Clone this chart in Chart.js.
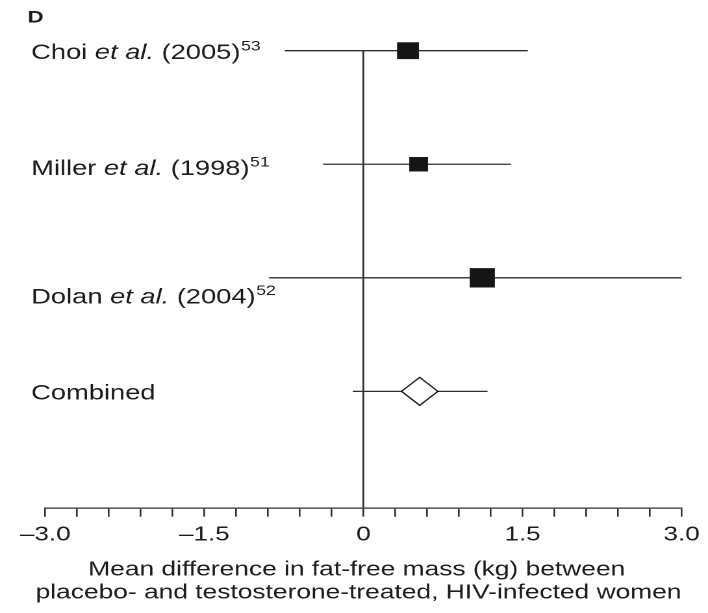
<!DOCTYPE html>
<html>
<head>
<meta charset="utf-8">
<script src="https://cdn.jsdelivr.net/npm/chart.js@4.4.1/dist/chart.umd.min.js"></script>
<style>
  html, body { margin: 0; padding: 0; background: #ffffff; overflow: hidden; }
  #wrap { width: 545px; height: 613px; transform: scaleX(1.2991); transform-origin: 0 0; }
</style>
</head>
<body>
<div id="wrap"><canvas id="c" width="545" height="613"></canvas></div>
<script>
// ---------------- data ----------------
const panelLetter = 'D';
const studyAuthors = ['Choi', 'Miller', 'Dolan', 'Combined'];
const studyEtAl = [true, true, true, false];
const studyYears = ['(2005)', '(1998)', '(2004)', ''];
const studyRefs = ['53', '51', '52', ''];
const rowPositions = [4, 3, 2, 1];
const meanDiff = [0.42, 0.52, 1.12, 0.53];
const ciLower = [-0.74, -0.38, -0.89, -0.10];
const ciUpper = [1.55, 1.39, 3.0, 1.17];
const majorTickValues = [-3.0, -1.5, 0, 1.5, 3.0];
const majorTickLabels = ['–3.0', '–1.5', '0', '1.5', '3.0'];
const xAxisTitle = ['Mean difference in fat-free mass (kg) between',
                    'placebo- and testosterone-treated, HIV-infected women'];

// ---------------- styles ----------------
const FONT = '"Liberation Sans", Arial, Helvetica, sans-serif';
const LINE = '#2e2e2e';
const TEXT = '#1c1c1c';
const markerStyles = ['rect', 'rect', 'rect', 'rectRot'];
const markerRadii = [11.1, 9.4, 12.9, 14];
const markerFills = ['#151515', '#151515', '#151515', '#ffffff'];
const labelDrop = [0, 2.3, 17.1, 0];
const titleShift = [-5.2, -3.8];
const titleCenters = [570, 593];

const ciDatasets = rowPositions.map((r, i) => ({
  label: studyAuthors[i] + ' CI',
  data: [{ x: ciLower[i], y: r }, { x: ciUpper[i], y: r }],
  showLine: true,
  borderColor: LINE,
  borderWidth: 1.3,
  pointRadius: 0,
  pointHoverRadius: 0,
  fill: false,
  clip: false
}));

const markerDataset = {
  label: 'Mean difference',
  data: rowPositions.map((r, i) => ({ x: meanDiff[i], y: r })),
  showLine: false,
  pointStyle: markerStyles,
  pointRadius: markerRadii,
  pointHoverRadius: markerRadii,
  pointBackgroundColor: markerFills,
  pointBorderColor: '#1a1a1a',
  pointBorderWidth: 1.2,
  clip: false
};

const labelPlugin = {
  id: 'studyLabels',
  afterDraw(chart) {
    const ctx = chart.ctx;
    const ys = chart.scales.y;
    const xs = chart.scales.x;
    ctx.save();
    ctx.fillStyle = TEXT;
    ctx.textAlign = 'left';
    ctx.textBaseline = 'alphabetic';
    ctx.font = 'bold 17px ' + FONT;
    ctx.fillText(panelLetter, 21.3, 22.5);
    studyAuthors.forEach((name, i) => {
      const base = ys.getPixelForValue(rowPositions[i]) + 8.4 + labelDrop[i];
      let x = 24;
      ctx.font = '21px ' + FONT;
      const first = studyEtAl[i] ? name + ' ' : name;
      ctx.fillText(first, x, base);
      x += ctx.measureText(first).width;
      if (studyEtAl[i]) {
        ctx.font = 'italic 21px ' + FONT;
        ctx.fillText('et al.', x, base);
        x += ctx.measureText('et al.').width;
        ctx.font = '21px ' + FONT;
        const yr = ' ' + studyYears[i];
        ctx.fillText(yr, x, base);
        x += ctx.measureText(yr).width;
      }
      if (studyRefs[i]) {
        ctx.font = '13.5px ' + FONT;
        ctx.fillText(studyRefs[i], x + 0.5, base - 8.5);
      }
    });
    // axis title
    ctx.font = '20.3px ' + FONT;
    ctx.textAlign = 'center';
    ctx.textBaseline = 'middle';
    const cx = (xs.left + xs.right) / 2;
    xAxisTitle.forEach((line, i) => {
      ctx.fillText(line, cx + titleShift[i], titleCenters[i]);
    });
    ctx.restore();
  }
};

new Chart(document.getElementById('c'), {
  type: 'scatter',
  data: { datasets: [markerDataset, ...ciDatasets] },
  plugins: [labelPlugin],
  options: {
    responsive: false,
    devicePixelRatio: 2,
    animation: false,
    events: [],
    layout: { padding: { left: 34.87, right: 20.3, top: 50.7, bottom: 0 } },
    plugins: { legend: { display: false }, tooltip: { enabled: false } },
    scales: {
      x: {
        type: 'linear',
        position: 'bottom',
        min: -3,
        max: 3,
        afterFit(scale) { scale.height = 613 - 508.3; },
        border: { display: true, color: LINE, width: 1.3 },
        grid: {
          drawOnChartArea: true,
          drawTicks: true,
          color: (c) => (c.tick && Math.abs(c.tick.value) < 1e-9) ? LINE : 'rgba(0,0,0,0)',
          lineWidth: 1.3,
          tickLength: 8.4,
          tickColor: LINE,
          tickWidth: 1.3
        },
        ticks: {
          stepSize: 0.3,
          autoSkip: false,
          maxRotation: 0,
          padding: 6.3,
          color: TEXT,
          font: { family: FONT, size: 20 },
          callback(value) {
            const i = majorTickValues.findIndex(m => Math.abs(m - value) < 1e-6);
            return i >= 0 ? majorTickLabels[i] : '';
          }
        },
        title: { display: false }
      },
      y: { type: 'linear', display: false, min: -0.03, max: 4 }
    }
  }
});
</script>
</body>
</html>
